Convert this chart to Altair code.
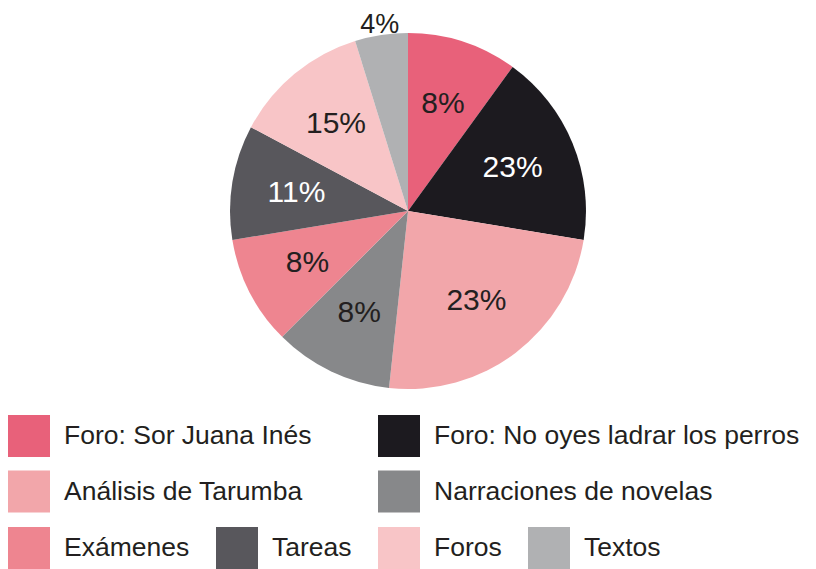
import altair as alt
import pandas as pd

categories = [
    "Foro: Sor Juana Inés",
    "Foro: No oyes ladrar los perros",
    "Análisis de Tarumba",
    "Narraciones de novelas",
    "Exámenes",
    "Tareas",
    "Foros",
    "Textos",
]
# slice sizes as drawn in the picture (share of the circle, %)
shares = [10.0, 17.6, 24.1, 10.8, 9.9, 10.4, 12.4, 4.8]
# printed labels
labels = ["8%", "23%", "23%", "8%", "8%", "11%", "15%", "4%"]
colors = ["#e8617a", "#1c1a1f", "#f2a6aa", "#87888a",
          "#ee8590", "#58575c", "#f8c5c7", "#b0b1b3"]

legend_rows = [categories[:4], categories[4:]]

df = pd.DataFrame({"cat": categories, "share": shares, "label": labels})
df["end"] = df["share"].cumsum()
df["start"] = df["end"] - df["share"]
df["mid"] = (df["start"] + df["end"]) / 2
total = float(df["share"].sum())

FONT = "Liberation Sans"
CX, CY = 400, 203
theta_scale = alt.Scale(domain=[0, total])
base = alt.Chart(df)


def arcs(subset, legend):
    rng = [colors[categories.index(c)] for c in subset]
    return base.transform_filter(
        alt.FieldOneOfPredicate(field="cat", oneOf=subset)
    ).mark_arc(radius=178).encode(
        x=alt.value(CX),
        y=alt.value(CY),
        theta=alt.Theta("start:Q", scale=theta_scale),
        theta2="end:Q",
        color=alt.Color("cat:N", scale=alt.Scale(domain=subset, range=rng), legend=legend),
    )


common_legend = dict(
    orient="none",
    title=None,
    symbolType="square",
    symbolSize=1764,
    symbolStrokeWidth=0,
    symbolOpacity=1,
    labelFont=FONT,
    labelFontSize=26.5,
    labelColor="#231f20",
    labelOffset=14,
    labelLimit=600,
    padding=0,
    direction="horizontal",
)

leg1 = alt.Legend(legendX=0, legendY=407, columns=2, rowPadding=13.5,
                  columnPadding=66, **common_legend)
leg2 = alt.Legend(legendX=0, legendY=519, columns=4, columnPadding=26,
                  **common_legend)

white_cats = ["Foro: No oyes ladrar los perros", "Tareas"]

inner = base.transform_filter("datum.share >= 6").mark_text(
    radius=113, font=FONT, fontSize=30
).encode(
    x=alt.value(CX),
    y=alt.value(CY),
    theta=alt.Theta("mid:Q", scale=theta_scale),
    text="label:N",
    color=alt.condition(
        alt.FieldOneOfPredicate(field="cat", oneOf=white_cats),
        alt.value("#ffffff"),
        alt.value("#231f20"),
    ),
)

outer = base.transform_filter("datum.share < 6").mark_text(
    radius=188, font=FONT, fontSize=27, color="#231f20"
).encode(
    x=alt.value(CX),
    y=alt.value(CY),
    theta=alt.Theta("mid:Q", scale=theta_scale),
    text="label:N",
)

chart = alt.layer(
    arcs(legend_rows[0], leg1),
    arcs(legend_rows[1], leg2),
    inner,
    outer,
).resolve_scale(color="independent").properties(
    width=800, height=561, autosize="none", padding=0
).configure_view(stroke=None)

chart.save("out.html", embed_options={"renderer": "svg", "actions": False})
